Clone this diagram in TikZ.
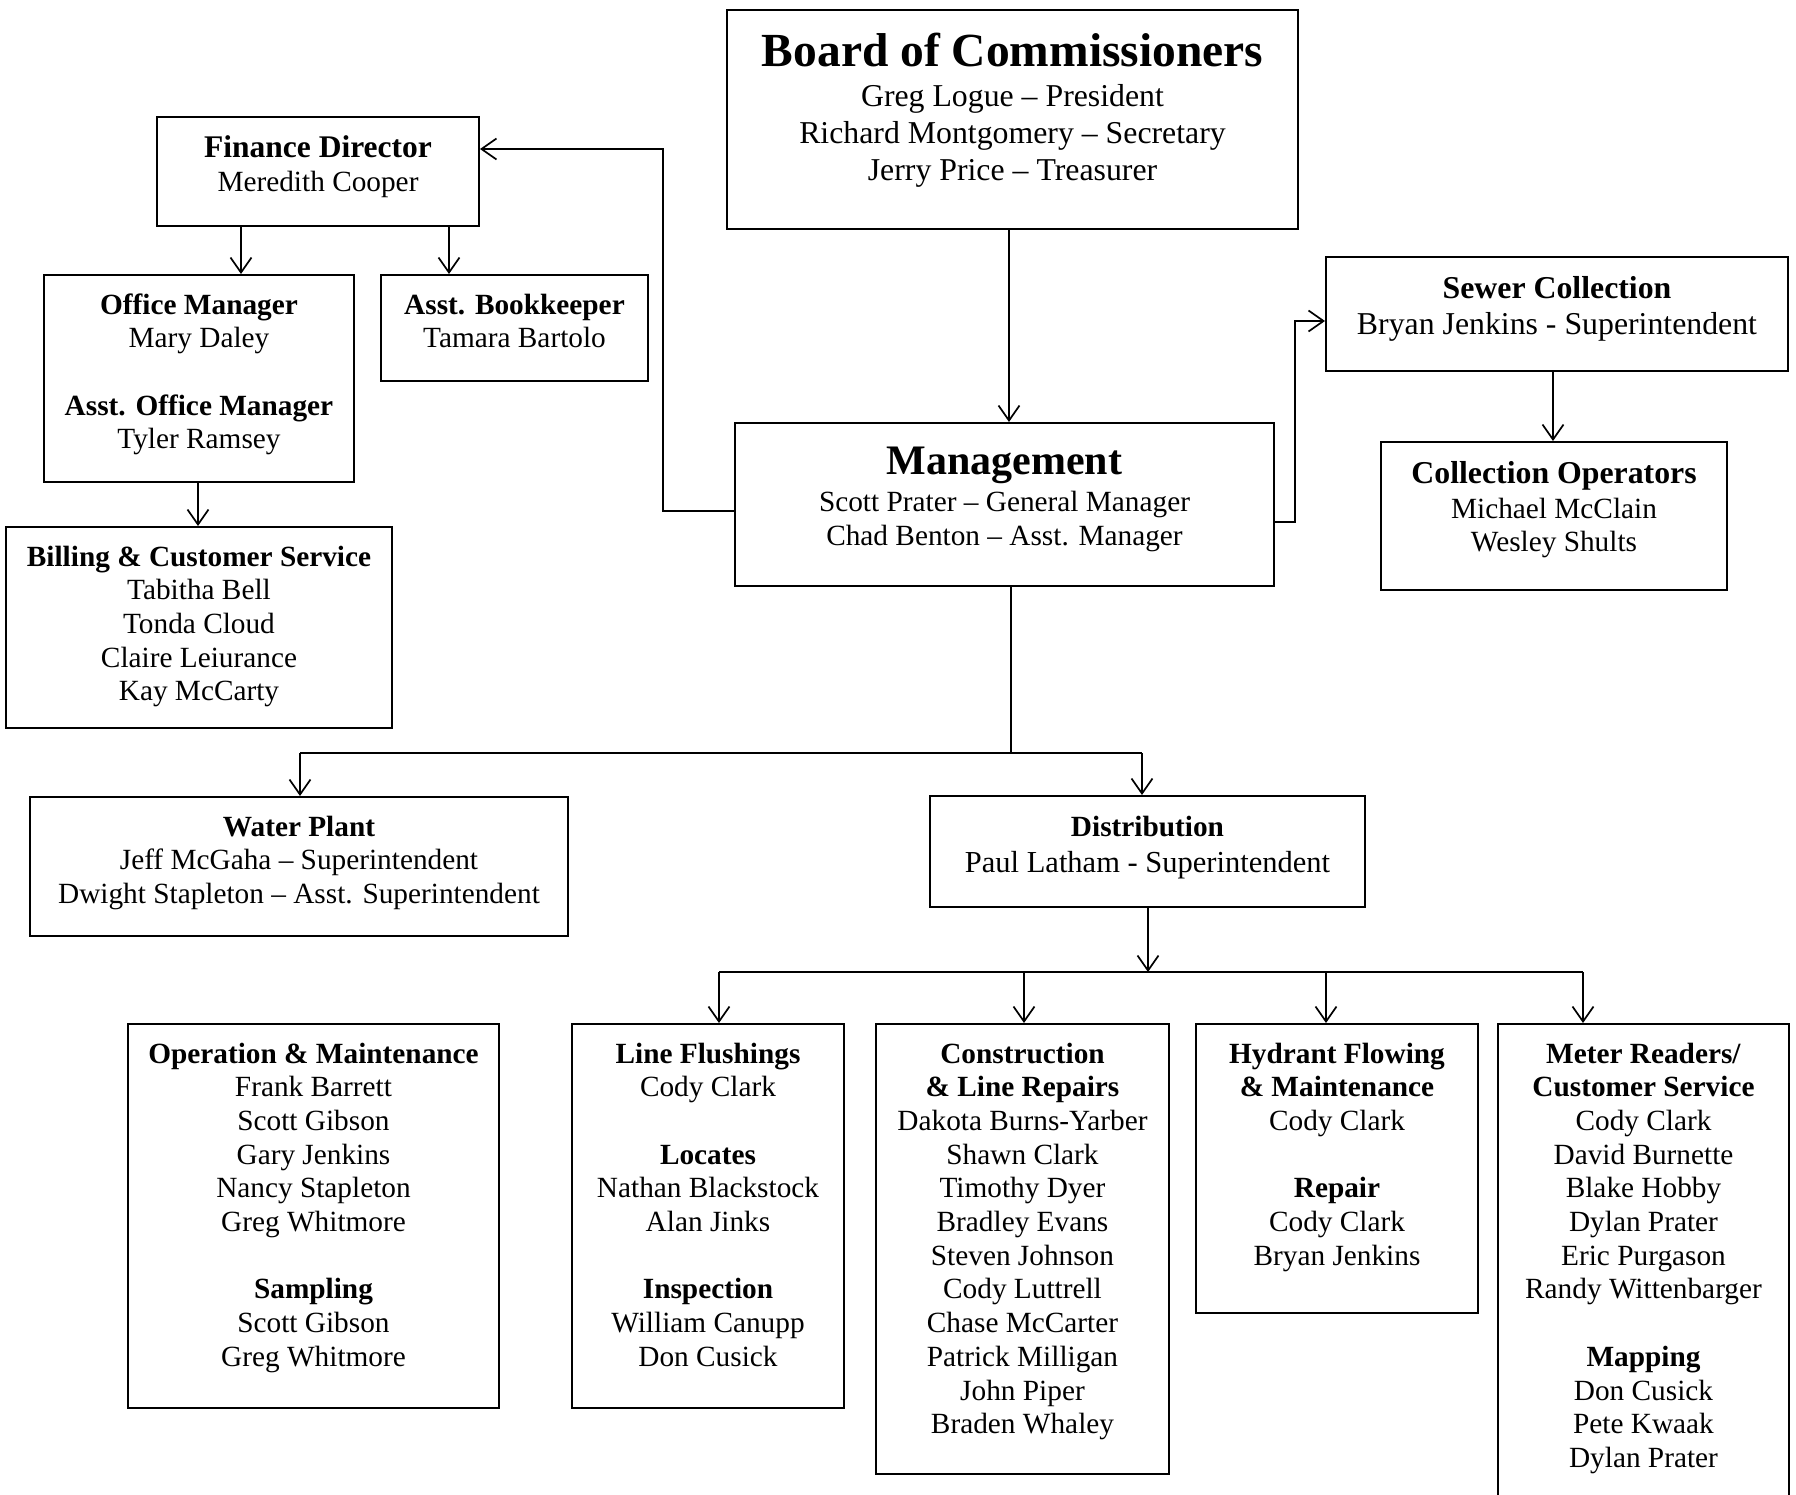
\documentclass[tikz,border=0pt]{standalone}
\usepackage{fontspec}
\setmainfont{Liberation Serif}
\usetikzlibrary{arrows.meta}
\begin{document}
\begin{tikzpicture}[x=1pt,y=-1pt,
  box/.style={draw, line width=2pt, inner sep=0pt},
  txt/.style={align=center, inner sep=0pt, anchor=base, font=\fontsize{29.3}{33.7}\selectfont},
  conn/.style={line width=1.7pt},
  arr/.style={conn, -{Straight Barb[length=15pt,width=21pt]}},
]
\useasboundingbox (0,0) rectangle (1796,1494);

% ---------- boxes ----------
\node[box, minimum width=571pt, minimum height=219pt] (board) at (1012.5,119.5) {};
\node[box, minimum width=322pt, minimum height=109pt] (fin) at (318,171.5) {};
\node[box, minimum width=310pt, minimum height=207pt] (office) at (199,378.5) {};
\node[box, minimum width=267pt, minimum height=106pt] (book) at (514.5,328) {};
\node[box, minimum width=386pt, minimum height=201pt] (bill) at (199,627.5) {};
\node[box, minimum width=539pt, minimum height=163pt] (mgmt) at (1004.5,504.5) {};
\node[box, minimum width=462pt, minimum height=114pt] (sewer) at (1557,314) {};
\node[box, minimum width=346pt, minimum height=148pt] (colop) at (1554,516) {};
\node[box, minimum width=538pt, minimum height=139pt] (water) at (299,866.5) {};
\node[box, minimum width=435pt, minimum height=111pt] (dist) at (1147.5,851.5) {};
\node[box, minimum width=371pt, minimum height=384pt] (om) at (313.5,1216) {};
\node[box, minimum width=272pt, minimum height=384pt] (lf) at (708,1216) {};
\node[box, minimum width=293pt, minimum height=450pt] (cons) at (1022.5,1249) {};
\node[box, minimum width=282pt, minimum height=289pt] (hyd) at (1337,1168.5) {};
\node[box, minimum width=291pt, minimum height=486pt] (meter) at (1643.5,1267) {};

% ---------- texts (anchor base = baseline of the last line) ----------
\node[txt, font=\fontsize{47.5}{50}\selectfont\bfseries] (boardT) at (1012.5,66) {Board of Commissioners};
\node[txt, font=\fontsize{31.8}{37}\selectfont] (boardN) at (1012.5,180.5) {Greg Logue – President\\Richard Montgomery – Secretary\\Jerry Price – Treasurer};

\node[txt, font=\fontsize{31.5}{34}\selectfont\bfseries] (finT) at (318,157) {Finance Director};
\node[txt] (finN) at (318,191) {Meredith Cooper};

\node[txt] (officeT) at (199,448.8) {\textbf{Office Manager}\\Mary Daley\\[33.7pt]\textbf{Asst. Office Manager}\\Tyler Ramsey};
\node[txt] (bookT) at (514.5,347.7) {\textbf{Asst. Bookkeeper}\\Tamara Bartolo};
\node[txt] (billT) at (199,700.8) {\textbf{Billing \& Customer Service}\\Tabitha Bell\\Tonda Cloud\\Claire Leiurance\\Kay McCarty};

\node[txt, font=\fontsize{42}{44}\selectfont\bfseries] (mgmtT) at (1004.5,474) {Management};
\node[txt, font=\fontsize{29.3}{34}\selectfont] (mgmtN) at (1004.5,545) {Scott Prater – General Manager\\Chad Benton – Asst. Manager};

\node[txt, font=\fontsize{31.8}{34}\selectfont\bfseries] (sewerT) at (1557,298) {Sewer Collection};
\node[txt, font=\fontsize{31.8}{34}\selectfont] (sewerN) at (1557,334) {Bryan Jenkins - Superintendent};

\node[txt, font=\fontsize{31.8}{34}\selectfont\bfseries] (colopT) at (1554,483) {Collection Operators};
\node[txt] (colopN) at (1554,551.7) {Michael McClain\\Wesley Shults};

\node[txt] (waterT) at (299,903.4) {\textbf{Water Plant}\\Jeff McGaha – Superintendent\\Dwight Stapleton – Asst. Superintendent};

\node[txt] (distT) at (1147.5,836) {\textbf{Distribution}};
\node[txt, font=\fontsize{30.5}{34}\selectfont] (distN) at (1147.5,872) {Paul Latham - Superintendent};

\node[txt] (omT) at (313.5,1366.3) {\textbf{Operation \& Maintenance}\\Frank Barrett\\Scott Gibson\\Gary Jenkins\\Nancy Stapleton\\Greg Whitmore\\[33.7pt]\textbf{Sampling}\\Scott Gibson\\Greg Whitmore};
\node[txt] (lfT) at (708,1366.3) {\textbf{Line Flushings}\\Cody Clark\\[33.7pt]\textbf{Locates}\\Nathan Blackstock\\Alan Jinks\\[33.7pt]\textbf{Inspection}\\William Canupp\\Don Cusick};
\node[txt] (consT) at (1022.5,1433.7) {\textbf{Construction}\\\textbf{\& Line Repairs}\\Dakota Burns-Yarber\\Shawn Clark\\Timothy Dyer\\Bradley Evans\\Steven Johnson\\Cody Luttrell\\Chase McCarter\\Patrick Milligan\\John Piper\\Braden Whaley};
\node[txt] (hydT) at (1337,1265.2) {\textbf{Hydrant Flowing}\\\textbf{\& Maintenance}\\Cody Clark\\[33.7pt]\textbf{Repair}\\Cody Clark\\Bryan Jenkins};
\node[txt] (meterT) at (1643.5,1467.4) {\textbf{Meter Readers/}\\\textbf{Customer Service}\\Cody Clark\\David Burnette\\Blake Hobby\\Dylan Prater\\Eric Purgason\\Randy Wittenbarger\\[33.7pt]\textbf{Mapping}\\Don Cusick\\Pete Kwaak\\Dylan Prater};

% ---------- junction coordinates ----------
\coordinate (xb) at (1009,0);
\coordinate (fj) at (663,149);
\coordinate (sj) at (1295,321);
\coordinate (mj) at (1011,753);
\coordinate (wj) at (300,753);
\coordinate (dj) at (1142,753);
\coordinate (bj) at (1148,972);
\coordinate (b1) at (719,972);
\coordinate (b2) at (1024,972);
\coordinate (b3) at (1326,972);
\coordinate (b4) at (1583,972);

% ---------- connectors ----------
\draw[arr] (board.south -| xb) -- (mgmt.north -| xb);
\draw[arr] (mgmt.west |- 0,511) -| (fj) -- (fin.east |- fj);
\draw[arr] (mgmt.east |- 0,522) -| (sj) -- (sewer.west |- sj);
\draw[arr] (fin.south -| 241,0) -- (office.north -| 241,0);
\draw[arr] (fin.south -| 449,0) -- (book.north -| 449,0);
\draw[arr] (office.south -| 198,0) -- (bill.north -| 198,0);
\draw[arr] (sewer.south -| 1553,0) -- (colop.north -| 1553,0);

\draw[conn] (mgmt.south -| mj) -- (mj);
\draw[conn] (wj) -- (dj);
\draw[arr] (wj) -- (water.north -| wj);
\draw[arr] (dj) -- (dist.north -| dj);

\draw[arr] (dist.south -| bj) -- (bj);
\draw[conn] (b1) -- (b4);
\draw[arr] (b1) -- (lf.north -| b1);
\draw[arr] (b2) -- (cons.north -| b2);
\draw[arr] (b3) -- (hyd.north -| b3);
\draw[arr] (b4) -- (meter.north -| b4);
\end{tikzpicture}
\end{document}
